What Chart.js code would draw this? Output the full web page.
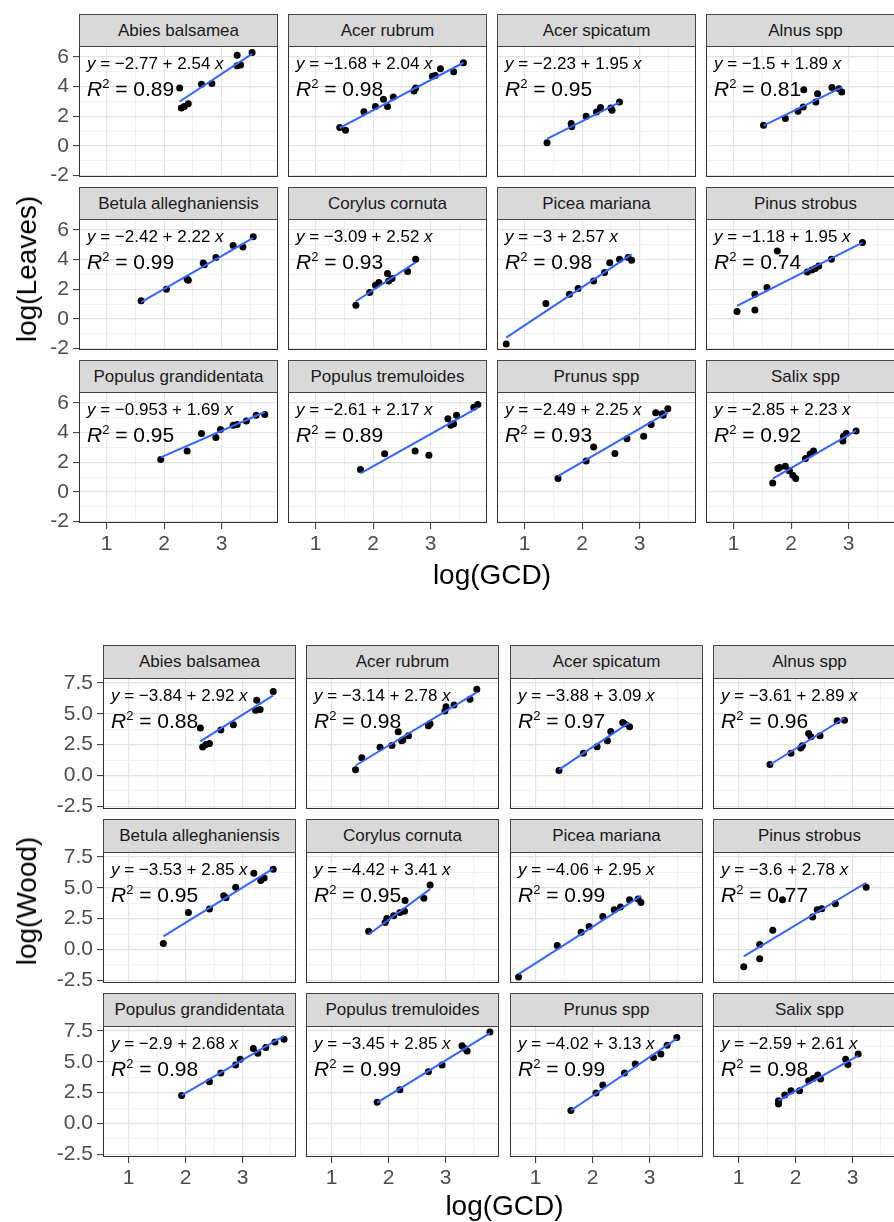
<!DOCTYPE html>
<html>
<head>
<meta charset="utf-8">
<script src="https://cdn.jsdelivr.net/npm/chart.js@4.4.1/dist/chart.umd.min.js"></script>
<style>
  html, body { margin: 0; padding: 0; background: #fff; overflow: hidden; }
  body { width: 894px; height: 1222px; position: relative; font-family: "Liberation Sans", Arial, sans-serif; }
  canvas { position: absolute; }
  .strip { position: absolute; box-sizing: border-box; background: #d9d9d9; border: 1px solid #444;
           color: #1a1a1a; font-size: 17px; text-align: center; white-space: nowrap; overflow: hidden; }
  .eq { position: absolute; white-space: nowrap; color: #000; line-height: 1; }
  .eq1 { font-size: 17px; }
  .eq2 { font-size: 21px; }
  .eq sup { font-size: 0.62em; vertical-align: 0.6em; line-height: 0; }
  .title { position: absolute; font-size: 28px; color: #000; white-space: nowrap; line-height: 1; }
</style>
</head>
<body>
<script>
// ---- data ----
const SPECIES = [
  "Abies balsamea", "Acer rubrum", "Acer spicatum", "Alnus spp",
  "Betula alleghaniensis", "Corylus cornuta", "Picea mariana", "Pinus strobus",
  "Populus grandidentata", "Populus tremuloides", "Prunus spp", "Salix spp"
];

// log(GCD) and log(Leaves), one list per species
const LEAF_GCD = [
  [2.27, 2.30, 2.35, 2.42, 2.65, 2.83, 3.27, 3.27, 3.33, 3.53],
  [1.42, 1.52, 1.84, 2.04, 2.18, 2.25, 2.35, 2.71, 2.74, 3.03, 3.08, 3.17, 3.40, 3.57],
  [1.39, 1.81, 1.82, 2.07, 2.25, 2.32, 2.50, 2.52, 2.65],
  [1.52, 1.90, 2.12, 2.21, 2.22, 2.43, 2.46, 2.71, 2.83, 2.88],
  [1.60, 2.04, 2.40, 2.42, 2.68, 2.70, 2.90, 3.20, 3.37, 3.55],
  [1.70, 1.94, 2.04, 2.10, 2.25, 2.27, 2.33, 2.60, 2.74],
  [0.68, 1.37, 1.78, 1.93, 2.20, 2.39, 2.48, 2.65, 2.80, 2.86],
  [1.06, 1.37, 1.37, 1.58, 1.76, 2.28, 2.36, 2.42, 2.48, 2.70, 3.24],
  [1.94, 2.40, 2.65, 2.90, 2.98, 3.20, 3.27, 3.43, 3.60, 3.75],
  [1.78, 2.20, 2.73, 2.97, 3.30, 3.35, 3.40, 3.45, 3.75, 3.82],
  [1.58, 2.07, 2.20, 2.57, 2.78, 3.07, 3.20, 3.28, 3.39, 3.41, 3.49],
  [1.68, 1.77, 1.80, 1.90, 1.97, 2.03, 2.08, 2.25, 2.33, 2.39, 2.90, 2.91, 2.96, 3.13]
];
const LEAF_VAL = [
  [3.90, 2.55, 2.65, 2.85, 4.15, 4.20, 6.10, 5.40, 5.45, 6.30],
  [1.25, 1.05, 2.30, 2.65, 3.15, 2.65, 3.30, 3.70, 3.90, 4.70, 4.75, 5.20, 5.00, 5.60],
  [0.21, 1.51, 1.29, 2.00, 2.29, 2.59, 2.55, 2.40, 2.96],
  [1.40, 1.85, 2.34, 2.63, 3.79, 2.96, 3.52, 3.93, 3.86, 3.63],
  [1.22, 2.00, 2.67, 2.60, 3.77, 3.65, 4.13, 4.95, 4.85, 5.54],
  [0.93, 1.78, 2.27, 2.45, 3.06, 2.56, 2.72, 3.19, 4.02],
  [-1.69, 1.04, 1.67, 2.05, 2.56, 3.12, 3.79, 4.02, 4.13, 3.95],
  [0.51, 0.60, 1.67, 2.12, 4.57, 3.16, 3.30, 3.39, 3.57, 4.02, 5.14],
  [2.18, 2.76, 3.93, 3.66, 4.20, 4.49, 4.55, 4.77, 5.16, 5.22],
  [1.51, 2.58, 2.76, 2.47, 4.93, 4.49, 4.60, 5.16, 5.71, 5.89],
  [0.91, 2.09, 3.03, 2.59, 3.59, 3.75, 4.55, 5.34, 5.27, 5.16, 5.61],
  [0.61, 1.58, 1.65, 1.73, 1.42, 1.13, 0.91, 2.25, 2.55, 2.76, 3.43, 3.75, 3.93, 4.10]
];
const LEAF_INT = [-2.77, -1.68, -2.23, -1.5, -2.42, -3.09, -3, -1.18, -0.953, -2.61, -2.49, -2.85];
const LEAF_SLOPE = [2.54, 2.04, 1.95, 1.89, 2.22, 2.52, 2.57, 1.95, 1.69, 2.17, 2.25, 2.23];
const LEAF_R2 = [0.89, 0.98, 0.95, 0.81, 0.99, 0.93, 0.98, 0.74, 0.95, 0.89, 0.93, 0.92];

// log(GCD) and log(Wood)
const WOOD_GCD = [
  [2.26, 2.30, 2.36, 2.42, 2.62, 2.84, 3.23, 3.25, 3.31, 3.54],
  [1.42, 1.53, 1.85, 2.06, 2.17, 2.23, 2.25, 2.35, 2.70, 2.73, 2.99, 3.01, 3.15, 3.43, 3.55],
  [1.41, 1.84, 2.08, 2.26, 2.32, 2.53, 2.56, 2.65],
  [1.55, 1.92, 2.09, 2.12, 2.23, 2.27, 2.43, 2.73, 2.86],
  [1.61, 2.05, 2.42, 2.67, 2.71, 2.88, 3.20, 3.32, 3.38, 3.54],
  [1.65, 1.94, 1.97, 2.09, 2.20, 2.28, 2.29, 2.62, 2.73],
  [0.70, 1.38, 1.80, 1.94, 2.18, 2.38, 2.49, 2.65, 2.80, 2.85],
  [1.09, 1.37, 1.37, 1.60, 1.77, 2.30, 2.38, 2.46, 2.70, 3.24],
  [1.93, 2.42, 2.62, 2.88, 2.96, 3.19, 3.27, 3.41, 3.57, 3.73],
  [1.80, 2.20, 2.70, 2.94, 3.29, 3.33, 3.38, 3.78],
  [1.62, 2.06, 2.18, 2.56, 2.75, 3.07, 3.20, 3.31, 3.48],
  [1.70, 1.70, 1.81, 1.92, 2.07, 2.23, 2.31, 2.39, 2.44, 2.88, 2.92, 3.10]
];
const WOOD_VAL = [
  [3.84, 2.31, 2.50, 2.60, 3.68, 4.11, 5.29, 6.10, 5.35, 6.80],
  [0.46, 1.43, 2.28, 2.42, 3.55, 2.82, 2.87, 3.22, 4.03, 4.20, 5.23, 5.56, 5.72, 6.18, 6.98],
  [0.40, 1.79, 2.33, 2.82, 3.57, 4.30, 4.20, 3.95],
  [0.88, 1.79, 2.22, 2.40, 3.41, 3.14, 3.22, 4.43, 4.48],
  [0.48, 3.00, 3.28, 4.35, 4.20, 5.05, 6.18, 5.59, 5.80, 6.50],
  [1.47, 2.19, 2.50, 2.73, 3.00, 3.10, 3.97, 4.16, 5.23],
  [-2.24, 0.32, 1.39, 1.87, 2.68, 3.22, 3.44, 4.03, 4.08, 3.81],
  [-1.40, -0.76, 0.40, 1.55, 4.03, 2.63, 3.22, 3.30, 3.70, 5.05],
  [2.26, 3.39, 4.09, 4.73, 5.21, 6.07, 5.70, 6.15, 6.61, 6.83],
  [1.72, 2.74, 4.19, 4.73, 6.29, 6.10, 5.88, 7.42],
  [1.05, 2.47, 3.12, 4.09, 4.81, 5.34, 5.62, 6.34, 6.96],
  [1.58, 1.85, 2.31, 2.66, 2.66, 3.46, 3.65, 3.92, 3.60, 5.21, 4.78, 5.62]
];
const WOOD_INT = [-3.84, -3.14, -3.88, -3.61, -3.53, -4.42, -4.06, -3.6, -2.9, -3.45, -4.02, -2.59];
const WOOD_SLOPE = [2.92, 2.78, 3.09, 2.89, 2.85, 3.41, 2.95, 2.78, 2.68, 2.85, 3.13, 2.61];
const WOOD_R2 = [0.88, 0.98, 0.97, 0.96, 0.95, 0.95, 0.99, 0.77, 0.98, 0.99, 0.99, 0.98];

// tick labels
const X_TICKS = [1, 2, 3];
const X_MINOR = [1.5, 2.5, 3.5];
const LEAF_Y_TICKS = [-2, 0, 2, 4, 6];
const LEAF_Y_MINOR = [-1, 1, 3, 5];
const WOOD_Y_TICKS = [-2.5, 0, 2.5, 5, 7.5];
const WOOD_Y_MINOR = [-1.25, 1.25, 3.75, 6.25];

// ---- layout ----
const PAD = 14;        // canvas margin around each panel
const YAXIS_W = 60;
const XAXIS_H = 40;
const FONT = '"Liberation Sans", Arial, sans-serif';
Chart.defaults.font.family = FONT;

const FIGS = [
  {
    gcd: LEAF_GCD, val: LEAF_VAL, a: LEAF_INT, b: LEAF_SLOPE, r2: LEAF_R2,
    yTicks: LEAF_Y_TICKS, yMinor: LEAF_Y_MINOR, yFmt: v => String(v),
    left: 79, colStep: 209, width: 199, top: 46, rowStep: 173, height: 131, strip: 32,
    xMin: 0.52, xMax: 3.98, yMin: -2.09, yMax: 6.73,
    yTitle: "log(Leaves)", yTitleX: 27, xTitleY: 575
  },
  {
    gcd: WOOD_GCD, val: WOOD_VAL, a: WOOD_INT, b: WOOD_SLOPE, r2: WOOD_R2,
    yTicks: WOOD_Y_TICKS, yMinor: WOOD_Y_MINOR, yFmt: v => v.toFixed(1),
    left: 103, colStep: 203.3, width: 193, top: 678, rowStep: 174, height: 131, strip: 33,
    xMin: 0.55, xMax: 3.94, yMin: -2.72, yMax: 7.90,
    yTitle: "log(Wood)", yTitleX: 27, xTitleY: 1206
  }
];

const panelFrame = {
  id: "panelFrame",
  beforeDraw(chart) {
    const a = chart.chartArea, ctx = chart.ctx;
    ctx.save();
    ctx.fillStyle = "#fff";
    ctx.fillRect(a.left, a.top, a.right - a.left, a.bottom - a.top);
    ctx.restore();
  },
  afterDraw(chart) {
    const a = chart.chartArea, ctx = chart.ctx;
    ctx.save();
    ctx.strokeStyle = "#333";
    ctx.lineWidth = 1;
    ctx.strokeRect(a.left + 0.5, a.top + 0.5, a.right - a.left - 1, a.bottom - a.top - 1);
    ctx.restore();
  }
};

function zeroPad(s) {
  s.paddingLeft = s.paddingRight = s.paddingTop = s.paddingBottom = 0;
}

function fmtNum(v) {
  return (v < 0 ? "\u2212" : "") + String(Math.abs(v));
}

function addDiv(cls, html, style) {
  const d = document.createElement("div");
  d.className = cls;
  d.innerHTML = html;
  Object.assign(d.style, style);
  document.body.appendChild(d);
  return d;
}

function makePanel(fig, i) {
  const r = Math.floor(i / 4), c = i % 4;
  const L = Math.round(fig.left + c * fig.colStep);
  const T = fig.top + r * fig.rowStep;
  const showY = c === 0, showX = r === 2;
  const extraL = showY ? YAXIS_W : 0, extraB = showX ? XAXIS_H : 0;

  const cv = document.createElement("canvas");
  const cw = fig.width + 2 * PAD + extraL, ch = fig.height + 2 * PAD + extraB;
  cv.width = cw; cv.height = ch;
  cv.style.width = cw + "px"; cv.style.height = ch + "px";
  cv.style.left = (L - PAD - extraL) + "px";
  cv.style.top = (T - PAD) + "px";
  document.body.appendChild(cv);

  const xs = fig.gcd[i], ys = fig.val[i];
  const pts = xs.map((x, k) => ({ x, y: ys[k] }));
  const x0 = Math.min(...xs), x1 = Math.max(...xs);
  const fit = [x0, x1].map(x => ({ x, y: fig.a[i] + fig.b[i] * x }));

  const xAll = X_TICKS.concat(X_MINOR).sort((p, q) => p - q);
  const yAll = fig.yTicks.concat(fig.yMinor).sort((p, q) => p - q);

  const gridColor = major => ctx => major.includes(ctx.tick.value) ? "#e3e3e3" : "#f1f1f1";
  const gridWidth = major => ctx => major.includes(ctx.tick.value) ? 1.2 : 1;
  const tickColor = major => ctx => major.includes(ctx.tick.value) ? "#333" : "rgba(0,0,0,0)";

  new Chart(cv, {
    type: "scatter",
    data: {
      datasets: [
        { data: fit, showLine: true, borderColor: "#3366FF", borderWidth: 2,
          pointRadius: 0, order: 0 },
        { data: pts, pointRadius: 3.5, pointHoverRadius: 3.5,
          backgroundColor: "#000", borderColor: "#000", borderWidth: 0, order: 1 }
      ]
    },
    options: {
      responsive: false,
      animation: false,
      events: [],
      layout: { padding: PAD },
      plugins: { legend: { display: false }, tooltip: { enabled: false } },
      scales: {
        x: {
          type: "linear", position: "bottom", min: fig.xMin, max: fig.xMax,
          afterBuildTicks: s => { s.ticks = xAll.map(v => ({ value: v })); },
          afterFit: s => { s.height = extraB; zeroPad(s); },
          border: { display: false },
          grid: { color: gridColor(X_TICKS), lineWidth: gridWidth(X_TICKS),
                  drawTicks: showX, tickLength: 6, tickColor: tickColor(X_TICKS), tickWidth: 1 },
          ticks: { display: showX, autoSkip: false, maxRotation: 0, padding: 3,
                   color: "#4d4d4d", font: { size: 21 },
                   callback: v => X_TICKS.includes(v) ? String(v) : "" }
        },
        y: {
          type: "linear", position: "left", min: fig.yMin, max: fig.yMax,
          afterBuildTicks: s => { s.ticks = yAll.map(v => ({ value: v })); },
          afterFit: s => { s.width = extraL; zeroPad(s); },
          border: { display: false },
          grid: { color: gridColor(fig.yTicks), lineWidth: gridWidth(fig.yTicks),
                  drawTicks: showY, tickLength: 6, tickColor: tickColor(fig.yTicks), tickWidth: 1 },
          ticks: { display: showY, autoSkip: false, padding: 4,
                   color: "#4d4d4d", font: { size: 21 },
                   callback: v => fig.yTicks.includes(v) ? fig.yFmt(v) : "" }
        }
      }
    },
    plugins: [panelFrame]
  });

  // strip label on top of the panel
  addDiv("strip", SPECIES[i], {
    left: L + "px", top: (T - fig.strip) + "px",
    width: fig.width + "px", height: (fig.strip + 1) + "px",
    lineHeight: (fig.strip - 1) + "px"
  });

  // fitted equation and R squared
  addDiv("eq eq1", "<i>y</i> = " + fmtNum(fig.a[i]) + " + " + fmtNum(fig.b[i]) + " <i>x</i>", {
    left: (L + 8) + "px", top: (T + 17 - 8.5) + "px"
  });
  addDiv("eq eq2", "<i>R</i><sup>2</sup> = " + String(fig.r2[i]), {
    left: (L + 8) + "px", top: (T + 42 - 10.5) + "px"
  });
}

FIGS.forEach(fig => {
  SPECIES.forEach((_, i) => makePanel(fig, i));

  const xLeft = fig.left;
  const xRight = Math.round(fig.left + 3 * fig.colStep) + fig.width;
  const yTop = fig.top - fig.strip;
  const yBottom = fig.top + 2 * fig.rowStep + fig.height;

  addDiv("title", "log(GCD)", {
    left: ((xLeft + xRight) / 2) + "px", top: fig.xTitleY + "px",
    transform: "translate(-50%, -50%)"
  });
  addDiv("title", fig.yTitle, {
    left: fig.yTitleX + "px", top: ((yTop + yBottom) / 2) + "px",
    transform: "translate(-50%, -50%) rotate(-90deg)"
  });
});
</script>
</body>
</html>
